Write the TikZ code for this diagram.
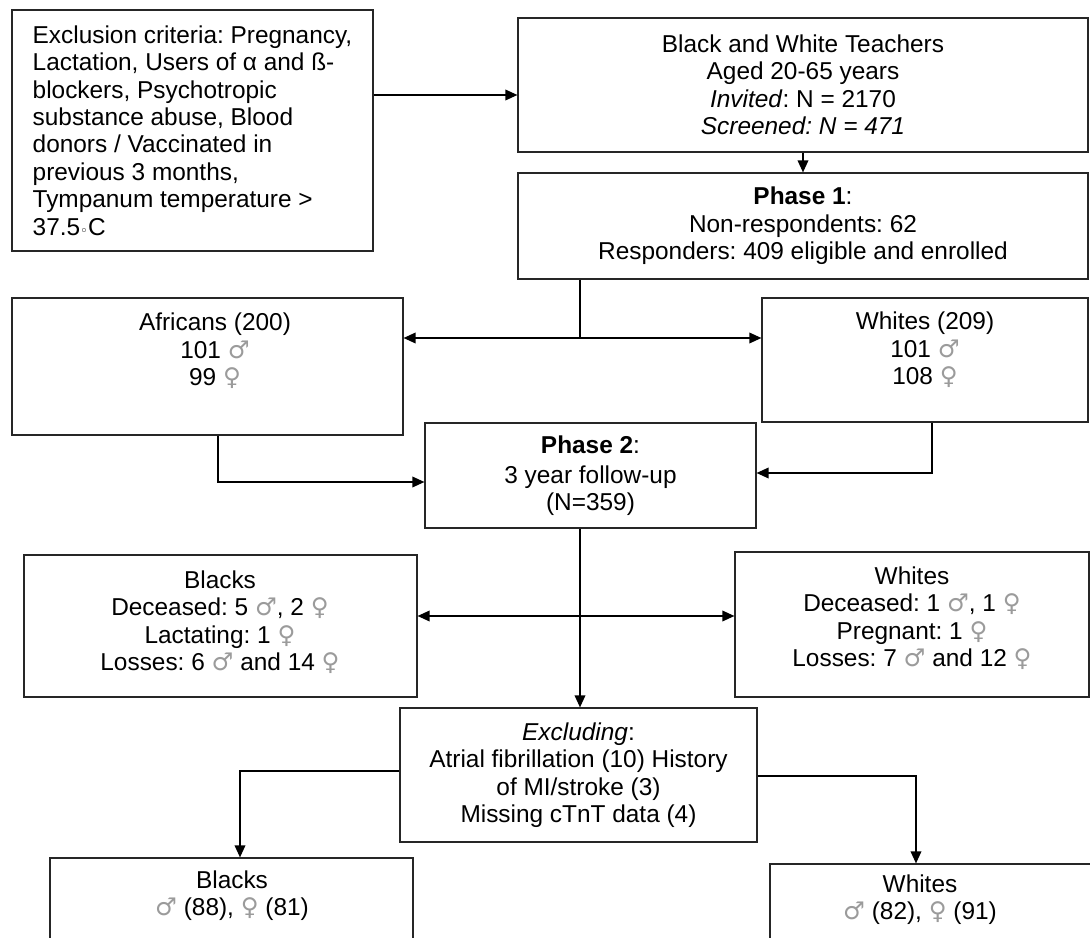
\documentclass[tikz,border=0pt]{standalone}
\usepackage{fontspec}
\setmainfont{Liberation Sans}
\newfontfamily\symfont{DejaVu Sans}
\usetikzlibrary{arrows.meta}
\definecolor{symgray}{RGB}{155,155,155}
\newcommand{\ml}{{\color{symgray}\symfont ♂}}
\newcommand{\fm}{{\color{symgray}\symfont ♀}}
\begin{document}
\frenchspacing
\begin{tikzpicture}[x=0.75pt,y=-0.75pt,
 box/.style={draw=black!85, line width=0.9pt, inner sep=0pt, align=center},
 txt/.style={inner sep=0pt, align=center},
 ln/.style={line width=1pt},
 arr/.style={line width=1pt, -{Triangle[length=9pt,width=8pt]}},
 darr/.style={line width=1pt, {Triangle[length=9pt,width=8pt]}-{Triangle[length=9pt,width=8pt]}},
 font=\fontsize{18.3pt}{20.6pt}\selectfont]
\useasboundingbox (0,0) rectangle (1090,938);

% boxes
\node[box, minimum width=270.75pt, minimum height=180.75pt, align=left] (excl) at (192.5,130.5)
 {Exclusion criteria: Pregnancy,\\Lactation, Users of α and ß-\\blockers, Psychotropic\\substance abuse, Blood\\donors / Vaccinated in\\previous 3 months,\\Tympanum temperature >\\37.5{\symfont\fontsize{10pt}{10pt}\selectfont ◦}C};

\node[box, minimum width=427.5pt, minimum height=100.5pt] (top) at (803,85)
 {Black and White Teachers\\Aged 20-65 years\\\textit{Invited}: N = 2170\\\textit{Screened: N = 471}};

\node[box, minimum width=427.5pt, minimum height=79.5pt] (ph1) at (803,226)
 {\textbf{Phase 1}:\\Non-respondents: 62\\Responders: 409 eligible and enrolled};

\node[box, minimum width=293.25pt, minimum height=102.75pt] (afr) at (207.5,366.5) {};
\node[txt] (afrT) at (215,351) {Africans (200)\\101 \ml\\99 \fm};

\node[box, minimum width=244.5pt, minimum height=93pt] (wh1) at (925,360) {};
\node[txt] (wh1T) at (925,350) {Whites (209)\\101 \ml\\108 \fm};

\node[box, minimum width=248.25pt, minimum height=78.75pt] (ph2) at (590.5,475.5)
 {\textbf{Phase 2}:\\[2pt]3 year follow-up\\(N=359)};

\node[box, minimum width=294.75pt, minimum height=106.5pt] (bl2) at (220.5,626) {};
\node[txt] (bl2T) at (220,622) {Blacks\\Deceased: 5 \ml, 2 \fm\\Lactating: 1 \fm\\Losses: 6 \ml{} and 14 \fm};

\node[box, minimum width=265.5pt, minimum height=108.75pt] (wh2) at (912,624.5) {};
\node[txt] (wh2T) at (912,618) {Whites\\Deceased: 1 \ml, 1 \fm\\Pregnant: 1 \fm\\Losses: 7 \ml{} and 12 \fm};

\node[box, minimum width=267.75pt, minimum height=100.5pt] (exc) at (578.5,775)
 {\textit{Excluding}:\\Atrial fibrillation (10) History\\of MI/stroke (3)\\Missing cTnT data (4)};

\node[box, minimum width=272.25pt, minimum height=76.5pt] (bl3) at (231.5,909) {};
\node[txt] (bl3T) at (232,895.5) {Blacks\\\ml{} (88), \fm{} (81)};

\node[box, minimum width=247.5pt, minimum height=72pt] (wh3) at (935,912) {};
\node[txt] (wh3T) at (920,899.5) {Whites\\\ml{} (82), \fm{} (91)};

% junction coordinates
\coordinate (c1) at (0,95);
\coordinate (j1) at (580,338);
\coordinate (j2) at (218,482);
\coordinate (j3) at (932,473);
\coordinate (j4) at (580,616);
\coordinate (j5) at (240,771);
\coordinate (j6) at (916,776);

% connectors
\draw[arr] (excl.east |- c1) -- (top.west |- c1);
\draw[arr] (top.south -| ph1.north) -- (ph1.north);
\draw[ln] (ph1.south -| j1) -- (j1);
\draw[darr] (afr.east |- j1) -- (wh1.west |- j1);
\draw[arr] (afr.south -| j2) -- (j2) -- (ph2.west |- j2);
\draw[arr] (wh1.south -| j3) -- (j3) -- (ph2.east |- j3);
\draw[arr] (ph2.south -| j4) -- (exc.north -| j4);
\draw[darr] (bl2.east |- j4) -- (wh2.west |- j4);
\draw[arr] (exc.west |- j5) -- (j5) -- (bl3.north -| j5);
\draw[arr] (exc.east |- j6) -- (j6) -- (wh3.north -| j6);
\end{tikzpicture}
\end{document}
